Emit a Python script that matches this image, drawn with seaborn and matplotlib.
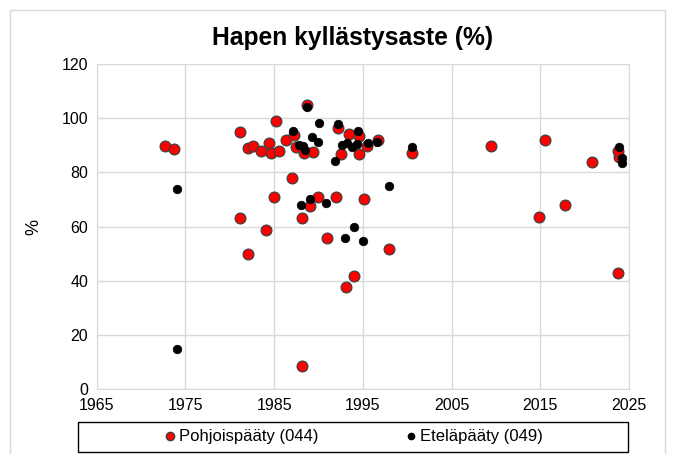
import numpy as np
import pandas as pd
import matplotlib
matplotlib.use("Agg")
import matplotlib.pyplot as plt
import seaborn as sns
from matplotlib.patches import Rectangle
from matplotlib.lines import Line2D

# Pohjoispääty (044)
north_year = [1972.7, 1973.7, 1981.1, 1982.1, 1982.6, 1983.5, 1984.4, 1984.7, 1985.6, 1985.2,
              1986.3, 1987.2, 1987.5, 1988.4, 1988.7, 1989.4, 1992.2, 1992.5, 1993.4, 1994.6,
              1994.6, 1995.5, 1996.7, 2000.5, 1987.0, 1985.0, 1989.0, 1990.0, 1992.0, 1995.1,
              1981.1, 1988.1, 1984.1, 1991.0, 1982.0, 1998.0, 1994.0, 1993.1, 1988.1, 2009.5,
              2015.5, 2020.8, 2023.9, 2023.8, 2017.8, 2014.8, 2023.8]
north_val = [89.8, 88.8, 94.8, 88.9, 89.8, 87.9, 91.0, 87.3, 87.9, 98.8,
             91.9, 93.8, 89.5, 87.1, 105.0, 87.7, 96.4, 86.9, 94.1, 93.6,
             86.9, 89.6, 91.8, 87.1, 77.9, 70.8, 67.8, 70.8, 70.8, 70.1,
             63.1, 63.1, 58.9, 55.7, 49.8, 51.9, 41.8, 37.9, 8.7, 89.8,
             91.9, 84.0, 85.8, 88.0, 67.9, 63.7, 42.8]

# Eteläpääty (049)
south_year = [1974.1, 1974.1, 1987.1, 1987.8, 1988.2, 1988.5, 1988.7, 1989.3, 1990.0, 1990.1,
              1992.2, 1991.9, 1992.6, 1993.2, 1993.8, 1994.3, 1994.5, 1995.6, 1996.6, 2000.5,
              1997.9, 1988.0, 1989.0, 1990.9, 1994.0, 1993.0, 1995.0, 2023.9, 2024.2, 2024.2]
south_val = [73.9, 14.8, 95.1, 90.1, 89.9, 88.3, 104.0, 93.2, 91.2, 98.2,
             97.8, 84.2, 90.1, 91.0, 89.5, 90.4, 95.1, 90.8, 91.1, 89.5,
             75.1, 68.0, 70.2, 68.9, 60.0, 55.9, 54.8, 89.5, 85.2, 83.4]

north = pd.DataFrame({"vuosi": north_year, "arvo": north_val})
south = pd.DataFrame({"vuosi": south_year, "arvo": south_val})

sns.set_style("white")
plt.rcParams['font.family'] = ['Liberation Sans', 'DejaVu Sans']
plt.rcParams['text.color'] = 'black'
plt.rcParams['axes.labelcolor'] = 'black'

fig = plt.figure(figsize=(6.77, 4.54), dpi=100)
ax = fig.add_axes([96.7/677, 1-389.3/454, (629-96.7)/677, (389.3-64)/454])

sns.scatterplot(data=north, x="vuosi", y="arvo", ax=ax, color="#ff0000", s=60,
                edgecolor="#404040", linewidth=0.9, zorder=3)
sns.scatterplot(data=south, x="vuosi", y="arvo", ax=ax, color="black", s=38,
                edgecolor="black", linewidth=0.5, zorder=4)

ax.set_xlim(1965, 2025)
ax.set_ylim(0, 120)
ax.set_xticks(np.arange(1965, 2026, 10))
ax.set_yticks(np.arange(0, 121, 20))
ax.grid(True, color="#d9d9d9", linewidth=1)
ax.set_axisbelow(True)
for sp in ax.spines.values():
    sp.set_color("#d9d9d9")
ax.tick_params(axis="both", length=0, labelsize=11.5, pad=6, colors="#000000")
ax.set_xlabel("")
ax.set_ylabel("%", fontsize=13, labelpad=14)

fig.text(353/677, 1-38/454, "Hapen kyllästysaste (%)", ha="center", va="center",
         fontsize=17.7, fontweight="bold", color="black")

# legend box
fig.patches.append(Rectangle((78/677, 1-452/454), 550/677, 30/454, transform=fig.transFigure,
                             fill=False, edgecolor="black", linewidth=1))
# outer chart border
fig.patches.append(Rectangle((10/677, -0.01), 655/677, 1.01-10/454, transform=fig.transFigure,
                             fill=False, edgecolor="#d9d9d9", linewidth=1))

handles = [Line2D([], [], marker="o", linestyle="", color="#ff0000", markeredgecolor="#404040",
                  markersize=6),
           Line2D([], [], marker="o", linestyle="", color="black", markersize=4.5)]
fig.legend(handles, ["Pohjoispääty (044)", "Eteläpääty (049)"], loc="center",
           bbox_to_anchor=(354/677, 1-437/454), ncol=2, frameon=False, fontsize=12,
           handletextpad=0.25, columnspacing=5.2, handlelength=0.6)

fig.savefig("out.png", dpi=100)
